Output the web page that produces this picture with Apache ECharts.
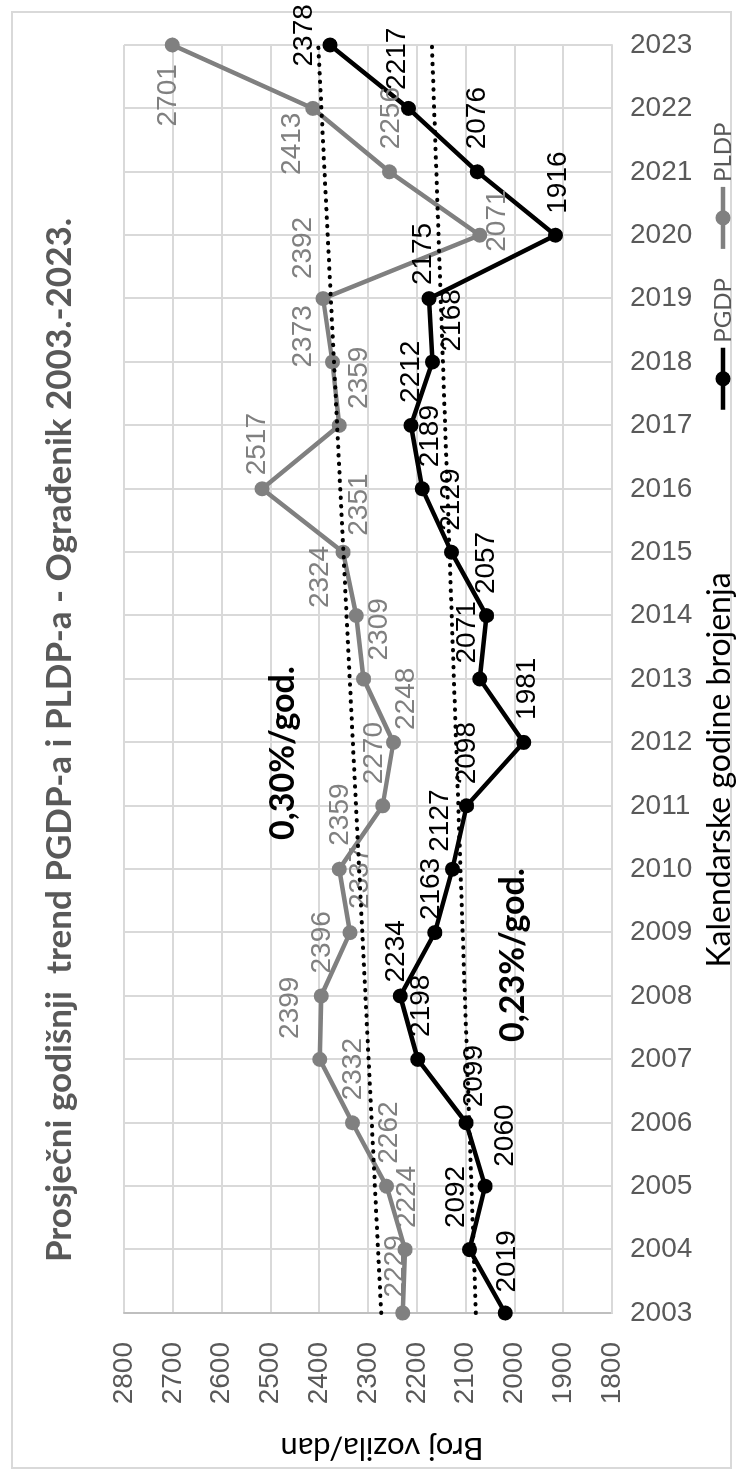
<!DOCTYPE html>
<html>
<head>
<meta charset="utf-8">
<script src="https://cdn.jsdelivr.net/npm/echarts@6/dist/echarts.min.js"></script>
<style>
  html, body { margin: 0; padding: 0; background: #fff; }
  body { width: 743px; height: 1480px; overflow: hidden; position: relative; }
  /* chart is drawn landscape and turned a quarter turn to the left */
  #chart {
    position: absolute; left: 0; top: 0;
    width: 1480px; height: 743px;
    transform-origin: 0 0;
    transform: translateY(1480px) rotate(-90deg);
  }
</style>
</head>
<body>
<div id="chart"></div>
<script>
// godine brojenja
var years = ['2003', '2004', '2005', '2006', '2007', '2008', '2009', '2010', '2011', '2012',
  '2013', '2014', '2015', '2016', '2017', '2018', '2019', '2020', '2021', '2022', '2023'];
// PGDP
var pgdp = [2019, 2092, 2060, 2099, 2198, 2234, 2163, 2127, 2098, 1981,
  2071, 2057, 2129, 2189, 2212, 2168, 2175, 1916, 2076, 2217, 2378];
// PLDP
var pldp = [2229, 2224, 2262, 2332, 2399, 2396, 2337, 2359, 2270, 2248,
  2309, 2324, 2351, 2517, 2359, 2373, 2392, 2071, 2256, 2413, 2701];
// trend lines, values at 2003 and 2023
var trendYears = ['2003', '2023'];
var pgdpTrend = [2079, 2169];
var pldpTrend = [2273, 2402];

// label nudges (px) so labels sit where they are in the original
var pgdpLabelOffset = [[2, 2], [3, -13], [1, 20], [-3, 8], [4, 4], [-5, -4], [-6, -4], [-1, -12], [3, 1], [4, 4],
  [-3, -12], [3, 0], [3, 0], [3, 8], [4, 0], [-8, 20], [-5, -6], [3, 3], [4, 0], [0, -11], [-40, -26]];
var pldpLabelOffset = [[-3, -7], [3, 2], [4, 3], [4, 1], [2, -29], [4, 1], [5, 10], [5, 1], [3, -8], [-6, 13],
  [0, 16], [-11, -36], [-2, 16], [-5, -5], [-2, 20], [-24, -29], [1, -20], [-35, 18], [4, 2], [-85, -21], [-100, -4]];

var NUM_FONT = "'Liberation Sans Narrow', 'Arial Narrow', sans-serif";
var TXT_FONT = "Lato, 'Noto Sans', sans-serif";

function withLabels(values, offsets) {
  return values.map(function (v, i) {
    return { value: v, label: { offset: offsets[i] } };
  });
}

var chart = echarts.init(document.getElementById('chart'));

var option = {
  animation: false,
  backgroundColor: '#fff',
  title: {
    text: 'Prosječni godišnji  trend PGDP-a i PLDP-a - Ograđenik 2003.-2023.',
    left: 'center',
    top: 37,
    textStyle: { fontFamily: TXT_FONT, fontSize: 35, fontWeight: 'bold', color: '#595959' }
  },
  legend: {
    data: ['PGDP', 'PLDP'],
    left: 1063,
    top: 706,
    itemWidth: 62,
    itemHeight: 19,
    itemGap: 27,
    lineStyle: { width: 4.5 },
    textStyle: { fontFamily: TXT_FONT, fontSize: 24, color: '#595959' }
  },
  grid: { left: 167, right: 45, top: 124, bottom: 131, containLabel: false },
  xAxis: {
    type: 'category',
    data: years,
    boundaryGap: false,
    axisLine: { lineStyle: { color: '#d9d9d9', width: 2 } },
    axisTick: { show: false },
    axisLabel: { rotate: -90, margin: 18, fontFamily: NUM_FONT, fontSize: 28, color: '#595959' },
    splitLine: { show: true, lineStyle: { color: '#d9d9d9', width: 2 } }
  },
  yAxis: {
    type: 'value',
    min: 1800,
    max: 2800,
    interval: 100,
    name: 'Broj vozila/dan',
    nameLocation: 'middle',
    nameGap: 120,
    nameTextStyle: { fontFamily: TXT_FONT, fontSize: 31, color: '#000', padding: [0, 28, 0, 0] },
    axisLine: { show: true, lineStyle: { color: '#bfbfbf', width: 2 } },
    axisLabel: {
      margin: 29, fontFamily: NUM_FONT, fontSize: 28, color: '#595959',
      formatter: function (v) { return String(v); }
    },
    splitLine: { lineStyle: { color: '#d9d9d9', width: 2 } }
  },
  graphic: [
    {
      type: 'rect',
      shape: { x: 12, y: 12, width: 1456, height: 719 },
      style: { fill: 'none', stroke: '#d9d9d9', lineWidth: 2 },
      silent: true
    },
    {
      type: 'text', x: 710, y: 720,
      style: { text: 'Kalendarske godine brojenja', align: 'center', verticalAlign: 'middle',
        font: '32px ' + TXT_FONT, fill: '#000' }
    },
    {
      type: 'text', x: 727, y: 283, z: 100,
      style: { text: '0,30%/god.', align: 'center', verticalAlign: 'middle',
        font: 'bold 34px ' + TXT_FONT, fill: '#000' }
    },
    {
      type: 'text', x: 525, y: 513, z: 100,
      style: { text: '0,23%/god.', align: 'center', verticalAlign: 'middle',
        font: 'bold 34px ' + TXT_FONT, fill: '#000' }
    }
  ],
  series: [
    {
      name: 'PGDP',
      type: 'line',
      data: withLabels(pgdp, pgdpLabelOffset),
      symbol: 'circle',
      symbolSize: 15,
      lineStyle: { color: '#000', width: 4.5 },
      itemStyle: { color: '#000' },
      label: { show: true, position: 'right', distance: 11, fontFamily: NUM_FONT, fontSize: 28, color: '#000' }
    },
    {
      name: 'PLDP',
      type: 'line',
      data: withLabels(pldp, pldpLabelOffset),
      symbol: 'circle',
      symbolSize: 15,
      lineStyle: { color: '#808080', width: 4.5 },
      itemStyle: { color: '#808080' },
      label: { show: true, position: 'right', distance: 11, fontFamily: NUM_FONT, fontSize: 28, color: '#808080' }
    },
    {
      name: 'PLDP trend',
      type: 'line',
      data: trendYears.map(function (y, i) { return [y, pldpTrend[i]]; }),
      symbol: 'none',
      silent: true,
      z: 5,
      lineStyle: { color: '#000', width: 4, type: [0.5, 8], cap: 'round' }
    },
    {
      name: 'PGDP trend',
      type: 'line',
      data: trendYears.map(function (y, i) { return [y, pgdpTrend[i]]; }),
      symbol: 'none',
      silent: true,
      z: 5,
      lineStyle: { color: '#000', width: 4, type: [0.5, 8], cap: 'round' }
    }
  ]
};

chart.setOption(option);
</script>
</body>
</html>
